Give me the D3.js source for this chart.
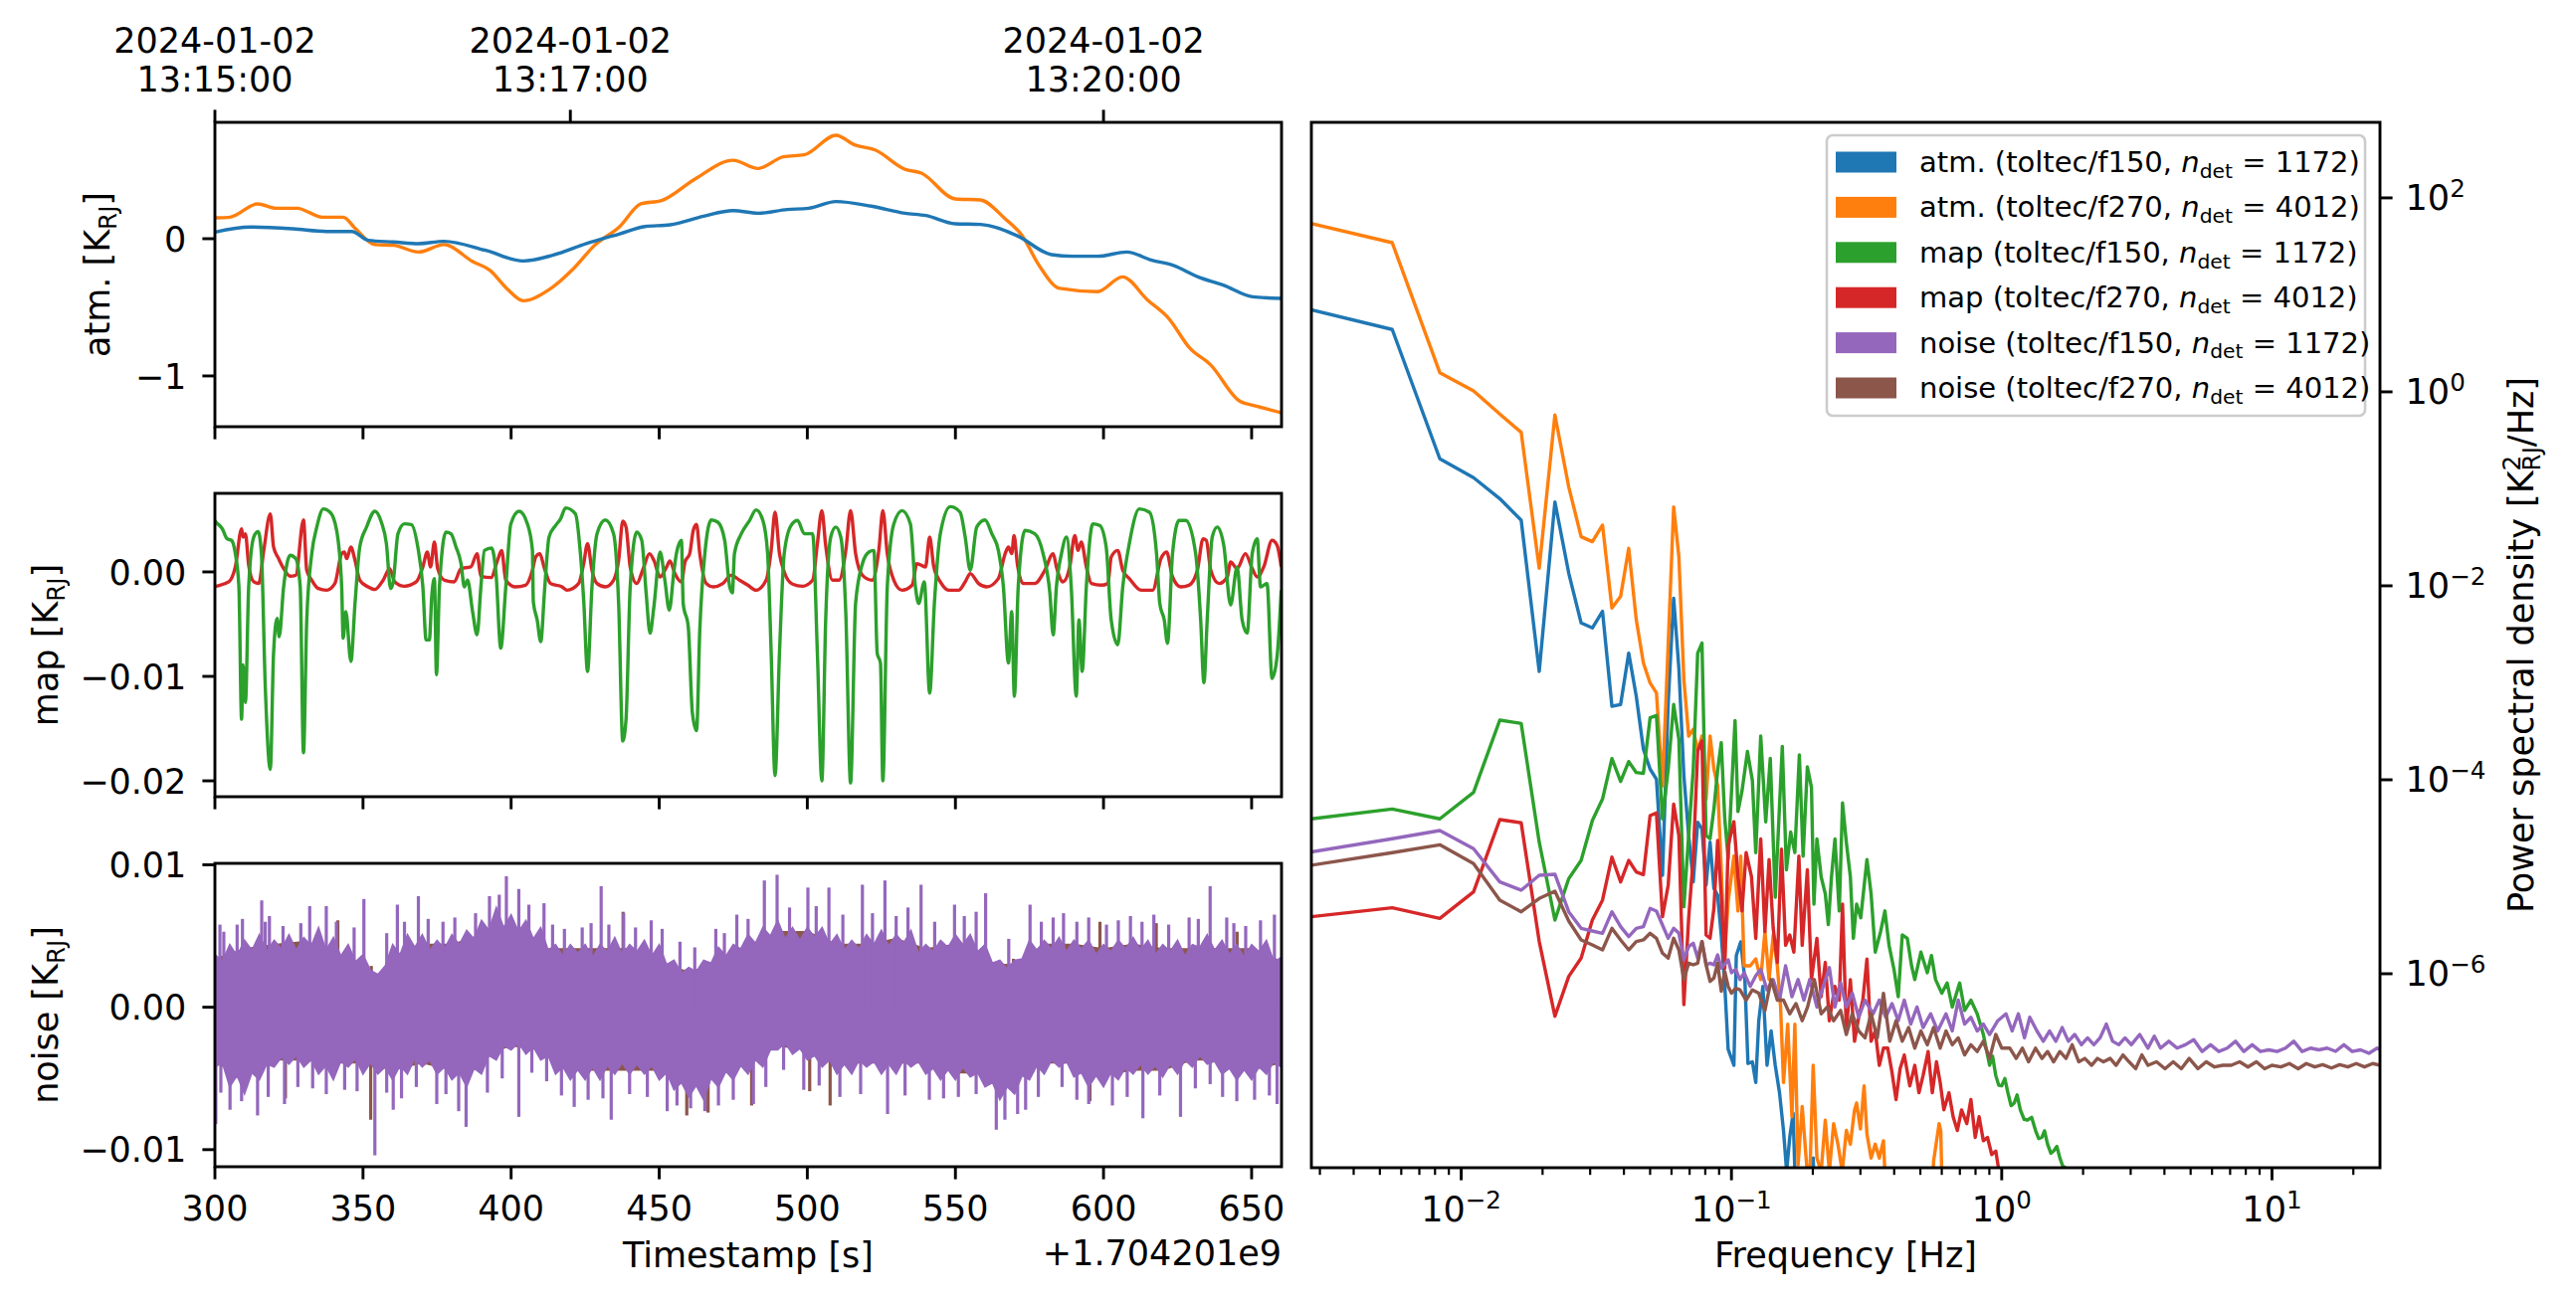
<!DOCTYPE html>
<html><head><meta charset="utf-8">
<script src="https://cdn.jsdelivr.net/npm/d3@7"></script>
<style>
body{margin:0;background:#fff;}
svg text{font-family:"DejaVu Sans",sans-serif;fill:#000;}
</style>
</head><body>
<svg id="chart" width="2589" height="1309" xmlns="http://www.w3.org/2000/svg"></svg>
<script>
// ---------------- DATA ----------------
const seriesNames = ["atm. (toltec/f150, ", "atm. (toltec/f270, ", "map (toltec/f150, ", "map (toltec/f270, ", "noise (toltec/f150, ", "noise (toltec/f270, "];
const seriesNdet = ["1172", "4012", "1172", "4012", "1172", "4012"];
const seriesColors = ["#1f77b4", "#ff7f0e", "#2ca02c", "#d62728", "#9467bd", "#8c564b"];

const timeTicks = [300, 350, 400, 450, 500, 550, 600, 650];
const dateTickSeconds = [300, 420, 600];
const dateTickLabels = [["2024-01-02", "13:15:00"], ["2024-01-02", "13:17:00"], ["2024-01-02", "13:20:00"]];
const atmTicks = [0, -1];
const mapTicks_mK = [0, -10, -20];
const noiseTicks_mK = [10, 0, -10];
const psdFreqTicks = [0.01, 0.1, 1, 10];
const psdFreqTickExp = ["\u22122", "\u22121", "0", "1"];
const psdTicks = [1e2, 1e0, 1e-2, 1e-4, 1e-6];
const psdTickExp = ["2", "0", "\u22122", "\u22124", "\u22126"];

// atm. time series [t (s, +1.704201e9), K_RJ]
const atmF150 = [[300,0.048],[312,0.085],[326.4,0.072],[337.7,0.053],[346.2,0.053],[351.8,-0.012],[360.3,-0.024],[368.8,-0.036],[377.3,-0.019],[391.4,-0.085],[404.1,-0.162],[414,-0.121],[425.4,-0.036],[436.7,0.036],[445.2,0.089],[453.7,0.101],[465,0.164],[474.9,0.205],[483.4,0.186],[493.3,0.213],[500.4,0.222],[509.7,0.271],[521.6,0.237],[532.9,0.186],[540,0.169],[549.9,0.109],[558.4,0.104],[571.1,0.019],[582.4,-0.116],[589.5,-0.128],[598,-0.128],[607.8,-0.097],[616.3,-0.157],[623.4,-0.193],[631.9,-0.278],[640.4,-0.338],[650.3,-0.423],[660,-0.435]];
const atmF270 = [[300,0.152],[305.1,0.157],[314.4,0.254],[320.6,0.222],[327.7,0.222],[336.2,0.157],[343.3,0.157],[347.5,0.072],[354,-0.043],[360.3,-0.048],[368.8,-0.097],[377.3,-0.043],[387.2,-0.169],[392.8,-0.229],[398.5,-0.362],[404.1,-0.452],[412.6,-0.374],[421.1,-0.217],[428.2,-0.048],[436.7,0.089],[443.8,0.254],[450.8,0.278],[462.1,0.435],[474.9,0.572],[483.4,0.512],[491.9,0.597],[498.9,0.611],[509.7,0.754],[515.9,0.684],[522.9,0.647],[532.9,0.507],[538.5,0.478],[549.9,0.290],[558.4,0.283],[566.8,0.145],[572.5,0.024],[578.2,-0.193],[585.2,-0.362],[598,-0.386],[606.4,-0.278],[614.9,-0.447],[622,-0.580],[629.1,-0.797],[636.1,-0.918],[646,-1.184],[651.7,-1.220],[660,-1.268]];

// map time series [t, mK_RJ]
const mapF150 = [[300,4.9],[300.4,4.76],[302.5,4.13],[304.1,3.17],[305.6,3.02],[306.9,1.75],[308.1,-1.43],[309,-14.1],[309.5,-8.9],[310.3,-12.5],[311.4,-1.43],[313.1,3.33],[314.6,3.87],[315.7,1.75],[317,-10.95],[318.7,-18.9],[319.8,-7.8],[321,-4.44],[321.7,-6.2],[323.2,-1.43],[325.4,1.59],[327.3,1.27],[328.8,-1.43],[329.9,-17.3],[331,-4.6],[332.7,1.75],[334.4,4.29],[336.6,6.03],[338.9,5.71],[341.1,3.97],[342.8,-1.43],[343.3,-6.35],[344.2,-3.81],[345.9,-8.57],[347.3,-3.02],[348.9,2.38],[351.2,4.29],[354,5.81],[356.2,4.76],[357.9,2.70],[359.3,-1.59],[360.1,-1.11],[361.8,3.65],[364,4.60],[366.3,4.54],[368.5,2.38],[370.2,-1.43],[371.3,-6.51],[372.4,-6.51],[373.2,-2.38],[374.1,-0.63],[374.8,-9.84],[375.8,-1.43],[378,3.81],[379.7,3.65],[381.4,2.38],[383.1,0.79],[384.2,-1.43],[385.3,-0.79],[387,-3.81],[388.5,-6.03],[389.8,-1.43],[391,2.06],[393.4,2.29],[394.9,-0.16],[396.5,-7.30],[398.2,-1.43],[399.9,4.60],[402.7,5.81],[405.5,4.60],[407.2,2.06],[407.5,-2.86],[408.8,-4.60],[410,-6.67],[411.3,-1.75],[412.8,3.33],[415,4.44],[416.7,5.08],[418.4,6.13],[421.7,5.56],[423.4,1.75],[424.5,-2.70],[425.8,-9.52],[427.3,-1.43],[429,3.65],[431.8,4.98],[434.6,3.65],[436.3,-3.02],[437.7,-16.2],[438.8,-14.1],[440.2,-1.43],[442.4,3.81],[444.1,3.02],[445.6,-2.06],[446.9,-5.87],[448.2,-3.33],[450.3,1.90],[451.9,-0.79],[453.4,-3.65],[455,0.16],[455.8,1.75],[457.5,3.02],[458.1,-3.02],[459.8,-5.24],[461.2,-13.5],[462.6,-15.2],[463.7,-5.56],[465.4,1.75],[467.6,4.98],[469.8,4.76],[472.1,3.02],[473.8,-1.43],[474.7,-2.0],[475.4,1.75],[477.7,3.65],[480.5,4.92],[482.7,5.94],[485,4.92],[486.6,1.75],[487.8,-7.78],[489.1,-19.5],[490.6,-7.78],[492.2,1.75],[494.5,4.44],[496.7,4.92],[499,3.65],[501.8,3.65],[503.4,-7.78],[504.9,-20.0],[506.2,-4.60],[507.9,3.33],[509.6,4.29],[511.3,3.33],[513,-3.97],[514.6,-20.2],[516.3,-3.02],[518.6,0.79],[520.8,1.90],[522.5,2.06],[523.6,-7.78],[524.7,-8.73],[525.5,-20.0],[527,-1.43],[529.2,4.60],[532,5.87],[534.8,4.60],[536.5,-1.43],[537.6,-3.02],[539.5,-0.95],[541.3,-11.6],[542.9,-3.02],[544.9,3.65],[548.3,6.25],[551.6,5.71],[553.3,3.33],[555,0.16],[557.2,4.29],[560,4.98],[562.3,3.65],[564.5,2.06],[566.2,-1.43],[567.9,-8.73],[569,-3.81],[569.9,-11.9],[571.2,-1.43],[573.5,3.97],[576.8,3.65],[579.6,1.75],[581.9,-2.06],[583,-6.03],[584.1,-1.43],[585.8,1.75],[587.5,3.33],[589.1,-1.43],[590.8,-11.9],[591.7,-4.60],[592.8,-9.52],[594.2,-1.43],[596.4,4.60],[598.7,4.44],[600.9,2.38],[602.6,-4.60],[604.8,-6.98],[606.5,-1.43],[608.7,2.70],[612.1,6.03],[615.5,5.71],[617.9,1.75],[619,-3.02],[620.5,-4.60],[621.6,-6.83],[623.3,1.75],[625.5,4.92],[627.8,4.92],[631.1,1.75],[632.8,-4.60],[633.9,-10.6],[635,-4.60],[636.7,3.33],[638.4,4.29],[640.6,2.54],[642.9,-3.17],[645.1,0.48],[646.8,-4.60],[648.5,-5.87],[650.2,1.75],[651.9,3.17],[653,-1.43],[655.2,-1.11],[656.9,-10.2],[658.6,-8.10],[660,-1.75]];
const mapF270 = [[300,-1.4],[300.4,-1.37],[304.7,-0.95],[306.9,0.48],[309,4.13],[309.5,3.33],[310.3,3.65],[311.4,0.63],[313.1,-0.95],[314.8,-1.11],[316.5,2.06],[318.7,5.56],[319.8,2.38],[321.5,1.27],[323.2,0.32],[325.4,-0.41],[327.3,-0.32],[329.9,4.98],[331,0.16],[332.7,-0.79],[334.9,-1.59],[337.7,-1.75],[340.5,-1.11],[342.8,1.75],[343.7,1.90],[344.5,1.27],[345.9,2.38],[347.3,1.11],[348.9,-0.79],[351.7,-1.43],[354,-1.68],[356.8,-0.79],[359,0.32],[360.7,-0.95],[364,-1.37],[368,-0.95],[370.2,0.48],[371.7,1.90],[372.8,0.48],[374.1,2.86],[375.2,0.32],[377.5,-0.79],[380.8,-0.95],[383.1,0.32],[386.4,0.48],[388.5,1.75],[389.8,-0.41],[393.2,-0.54],[395.4,1.11],[396.8,2.06],[398.2,-0.79],[401.5,-1.43],[404.9,-1.27],[407.2,0.16],[408.3,1.43],[409.7,1.75],[411.1,0.48],[413.3,-1.11],[417.2,-1.43],[418.9,-1.75],[422.8,-1.11],[424.5,0.79],[425.8,2.70],[427.3,0.16],[429,-1.11],[431.8,-1.43],[434.6,-0.79],[436.3,1.11],[437.7,4.86],[438.8,4.29],[440.2,0.48],[442.4,-1.11],[444.6,0.32],[446.7,1.75],[448.2,1.11],[450.3,-0.48],[452.5,0.48],[453.6,1.05],[455.3,-0.16],[457.5,-0.95],[458.7,0.95],[460.3,1.75],[461.5,3.97],[462.6,4.54],[463.7,1.75],[465.9,-1.11],[468.2,-1.43],[471.5,-1.11],[474.3,-0.32],[477.1,-0.79],[479.9,-1.27],[482.7,-1.75],[486.1,-0.79],[487.8,2.06],[489.1,5.71],[490.6,1.75],[492.2,0],[495,-1.17],[498.4,-1.37],[501.8,-0.79],[503.4,2.70],[504.9,5.87],[506.2,2.54],[508.5,-0.79],[510.7,-0.79],[513,2.06],[514.6,5.87],[516.3,1.75],[518.6,-0.32],[521.9,-0.79],[524.2,2.22],[525.5,5.87],[527,1.75],[529.2,-0.79],[532,-1.75],[535.4,-1.27],[537,0.79],[539.9,0.48],[541.3,3.33],[542.7,0.48],[544.9,-0.95],[547.7,-1.75],[551.1,-1.75],[553.3,-0.95],[555,-0.16],[557.8,-1.11],[560.6,-1.43],[564.5,-0.63],[566.8,1.75],[567.9,2.38],[569,1.75],[569.8,3.49],[570.9,0.79],[572.9,-1.11],[576.8,-1.11],[580.2,0.16],[583,1.75],[584.1,0.48],[586.3,-0.95],[588.6,0.48],[590.3,3.49],[591.4,2.06],[592.5,2.86],[594.2,0.48],[595.9,-1.11],[599.2,-1.27],[601.5,-1.11],[602.6,1.43],[604.8,2.06],[606.5,0.16],[608.7,-0.63],[612.7,-1.75],[616.6,-1.75],[619.4,1.27],[621.3,1.90],[623.3,-0.48],[626.1,-1.43],[628.9,-1.27],[631.7,0.16],[633.6,3.17],[634.7,3.02],[636.2,0.16],[639,-1.11],[641.8,-0.48],[642.9,0.95],[645.1,0.32],[647.9,1.75],[650.2,0.32],[651.9,-0.48],[654.1,0.48],[656.9,3.02],[658.6,2.54],[660,0.48]];

// noise time series: dense band [t, upper mK_RJ, lower mK_RJ] and individual spikes [t, mK_RJ]
const noiseF150Band = [[300,3.7,-4.2],[302.5,3.2,-3.9],[305,4.4,-5.6],[307.5,3.6,-4.8],[310,4.7,-6.1],[312.5,4.0,-4.6],[315,5.1,-5.1],[317.5,3.9,-4.0],[320,4.7,-4.2],[322.5,4.1,-3.5],[325,5.1,-4.0],[327.5,4.0,-3.4],[330,4.9,-4.2],[332.5,4.3,-3.7],[335,5.6,-4.7],[337.5,4.0,-4.1],[340,4.9,-5.1],[342.5,3.6,-3.8],[345,4.4,-4.2],[347.5,3.2,-3.6],[350,3.7,-4.7],[352.5,2.6,-3.9],[355,2.3,-4.7],[357.5,2.9,-4.2],[360,4.4,-5.1],[362.5,3.7,-4.1],[365,5.1,-4.7],[367.5,4.2,-3.6],[370,5.1,-4.2],[372.5,4.0,-3.7],[375,4.7,-4.7],[377.5,4.1,-4.2],[380,5.1,-5.1],[382.5,4.4,-4.6],[385,5.4,-5.6],[387.5,4.8,-4.3],[390,6.1,-4.7],[392.5,5.4,-3.4],[395,7.0,-3.7],[397.5,5.6,-2.7],[400,6.5,-3.0],[402.5,5.3,-2.5],[405,6.1,-3.3],[407.5,4.8,-2.8],[410,5.6,-3.7],[412.5,4.0,-3.4],[415,4.4,-4.7],[417.5,3.6,-4.2],[420,4.4,-5.1],[422.5,3.8,-4.4],[425,4.4,-5.1],[427.5,3.5,-4.2],[430,4.4,-5.1],[432.5,3.9,-4.1],[435,4.9,-4.7],[437.5,3.7,-3.9],[440,4.4,-4.7],[442.5,3.9,-4.0],[445,4.7,-4.7],[447.5,3.6,-4.1],[450,4.4,-5.1],[452.5,3.0,-4.6],[455,3.3,-5.8],[457.5,2.4,-5.3],[460,2.8,-6.3],[462.5,2.5,-5.5],[465,3.3,-6.5],[467.5,3.1,-5.0],[470,4.2,-5.6],[472.5,3.6,-4.5],[475,4.4,-5.1],[477.5,4.1,-4.1],[480,5.1,-4.7],[482.5,4.5,-3.7],[485,5.6,-4.2],[487.5,5.0,-3.0],[490,6.1,-3.0],[492.5,4.8,-2.5],[495,5.6,-3.3],[497.5,4.7,-2.9],[500,5.6,-3.7],[502.5,4.9,-3.4],[505,5.6,-4.2],[507.5,4.4,-3.7],[510,5.1,-4.7],[512.5,4.0,-4.0],[515,4.7,-4.7],[517.5,4.1,-3.7],[520,5.1,-4.2],[522.5,4.4,-3.8],[525,5.4,-4.7],[527.5,4.3,-4.0],[530,5.1,-4.7],[532.5,4.5,-3.7],[535,5.4,-4.2],[537.5,3.8,-3.8],[540,4.4,-4.7],[542.5,3.9,-4.3],[545,4.7,-5.1],[547.5,4.2,-4.4],[550,5.1,-5.1],[552.5,4.4,-4.2],[555,5.1,-4.9],[557.5,3.9,-4.6],[560,4.4,-5.6],[562.5,3.1,-5.3],[565,3.3,-6.5],[567.5,2.7,-5.6],[570,3.3,-6.1],[572.5,3.4,-4.8],[575,4.7,-5.1],[577.5,4.0,-4.1],[580,4.7,-4.7],[582.5,4.1,-3.7],[585,4.9,-4.2],[587.5,3.9,-3.8],[590,4.7,-4.9],[592.5,4.1,-4.6],[595,4.7,-5.6],[597.5,3.7,-4.8],[600,4.4,-5.6],[602.5,3.9,-4.6],[605,4.7,-5.1],[607.5,4.1,-4.2],[610,4.9,-4.7],[612.5,4.0,-4.0],[615,4.7,-4.7],[617.5,3.7,-4.1],[620,4.4,-4.9],[622.5,3.9,-4.0],[625,4.7,-4.7],[627.5,3.6,-3.7],[630,4.4,-4.2],[632.5,4.2,-3.4],[635,5.1,-4.0],[637.5,4.0,-3.8],[640,4.7,-4.7],[642.5,3.7,-4.3],[645,4.4,-5.1],[647.5,3.5,-4.4],[650,4.4,-5.1],[652.5,3.9,-4.2],[655,4.7,-4.7],[657.5,3.2,-3.8],[660,3.5,-4.2]];
const noiseF150Spikes = [[301.7,5.8],[303,5.3],[307.5,5.8],[309.3,6.2],[315.8,7.5],[317,6.0],[318.4,6.4],[323,5.7],[329,5.9],[332,7.1],[337.6,7.1],[341,6.0],[347,5.6],[350.3,7.6],[358,5.2],[361.6,7.2],[364,6.0],[368.7,7.8],[372,6.2],[377,6.0],[381,6.3],[388,6.6],[392.7,7.8],[396,7.9],[398.4,9.2],[402.6,8.3],[406,7.2],[411.1,7.3],[414,5.8],[418,5.5],[424,5.6],[427,5.9],[430.4,8.5],[433,5.8],[438,6.6],[442,5.6],[447.3,6.1],[451,5.5],[457,4.6],[462,4.2],[469.1,5.5],[472,5.2],[476.2,6.5],[480,6.2],[485.5,8.9],[489.8,9.3],[494,7.0],[500.2,8.4],[503,7.1],[507.3,8.4],[512,6.5],[518.6,8.6],[522,6.6],[526.2,8.9],[530,6.4],[534,7.0],[538.4,8.6],[543,6.0],[549.7,7.2],[553,6.4],[557,6.7],[560.2,8.0],[568,4.8],[575.2,7.2],[579,6.0],[583,6.3],[586.5,6.6],[591,6.0],[595,6.3],[601,5.8],[605,6.1],[609.1,6.4],[613,6.0],[617,6.5],[622,5.8],[628.9,6.3],[632,6.2],[636,8.5],[641.6,6.3],[644,5.9],[648,5.7],[653,6.1],[657.7,6.5],
[300.3,-8.2],[302,-6.0],[305.1,-7.2],[309,-6.6],[314.4,-7.6],[318,-6.3],[323.5,-6.8],[328,-5.6],[333,-5.7],[337.6,-6.1],[343.8,-5.8],[348,-5.9],[354,-10.4],[358,-6.0],[360.2,-7.2],[363,-6.4],[368,-5.6],[374.9,-6.8],[378,-6.1],[382.3,-7.3],[384.8,-8.4],[392,-6.0],[397,-5.0],[402.6,-7.7],[407,-4.6],[412,-5.2],[417,-6.2],[421.3,-7.0],[426,-6.5],[431,-6.4],[433.8,-7.9],[440,-6.1],[446,-6.3],[452.7,-7.3],[456,-6.9],[460.6,-7.1],[465.4,-7.3],[470,-6.9],[475,-6.5],[481.8,-6.8],[486,-5.6],[492,-4.4],[498.8,-5.8],[504,-5.5],[511,-6.3],[518,-6.1],[527.1,-7.5],[533,-6.2],[541.2,-6.5],[546,-6.4],[551,-6.3],[557,-6.1],[563.8,-8.6],[566.7,-7.9],[571,-7.5],[573.7,-7.2],[578,-6.3],[586,-5.6],[591,-6.5],[595,-6.8],[603,-6.9],[608,-6.3],[613.3,-7.8],[619,-6.2],[626,-7.7],[631,-5.7],[636,-5.4],[640.2,-6.3],[645,-6.6],[651,-6.5],[656,-6.2],[658.6,-6.8]];
const noiseF270Band = [[300,3.4,-3.9],[310,4.1,-4.8],[320,4.4,-3.7],[330,4.6,-3.7],[340,4.1,-3.9],[350,2.0,-3.9],[360,2.0,-4.4],[370,4.4,-3.9],[380,4.4,-4.4],[390,5.1,-3.4],[400,5.8,-2.7],[410,4.1,-3.0],[420,4.1,-4.4],[430,4.1,-4.4],[440,4.1,-4.4],[450,3.0,-4.4],[460,2.5,-5.5],[470,3.0,-4.8],[480,4.1,-3.9],[490,5.3,-2.7],[500,5.3,-3.0],[510,4.4,-3.9],[520,4.4,-3.9],[530,4.8,-3.9],[540,4.1,-3.9],[550,4.4,-4.6],[560,3.0,-4.6],[570,3.0,-4.8],[580,4.4,-3.9],[590,4.4,-3.9],[600,4.1,-4.8],[610,4.4,-4.4],[620,4.1,-4.4],[630,4.1,-3.7],[640,4.1,-3.7],[650,4.1,-4.4],[660,3.2,-3.9]];
const noiseF270Spikes = [[352.8,2.9],[352.6,-7.9],[437.8,6.7],[459.3,-7.6],[466.5,-7.4],[481.2,-6.9],[507.7,-6.9],[569.6,3.4],[595.4,-6.6],[598.8,6.0],[617.8,5.9],[645.1,5.3],[323.8,-6.4],[341.5,6.1],[500.8,-5.9]];

// power spectral density, log10(K_RJ^2/Hz); low-frequency bins in Hz
const psdFreqLow = [0.002778,0.005556,0.008333,0.01111,0.01389,0.01667,0.01944,0.02222,0.025,0.02778,0.03056,0.03333,0.03611,0.03889,0.04167,0.04444,0.04722,0.05,0.05278,0.05556,0.05833,0.06111,0.06389,0.06667,0.06944,0.07222,0.075,0.07778,0.08056,0.08333,0.08611,0.08889,0.09167,0.09444,0.09722];
const psdAtmF150Low = [0.848,0.643,-0.690,-0.885,-1.101,-1.323,-2.882,-1.135,-1.870,-2.383,-2.434,-2.263,-3.241,-3.224,-2.694,-3.138,-3.685,-3.890,-3.993,-4.985,-3.207,-2.127,-2.85,-3.959,-4.574,-5.053,-4.438,-4.506,-5.087,-4.643,-5.121,-5.190,-5.600,-6.113,-6.779];
const psdAtmF270Low = [1.737,1.538,0.198,0.010,-0.229,-0.417,-1.819,-0.239,-0.981,-1.494,-1.545,-1.374,-2.229,-2.109,-1.614,-2.35,-2.796,-3.002,-3.104,-4.062,-2.6,-1.186,-1.7,-2.967,-3.549,-3.480,-3.7,-3.549,-4.2,-3.549,-3.890,-4.062,-4.916,-5.805,-5.258];
const psdMapF150Low = [-4.403,-4.301,-4.403,-4.130,-3.385,-3.419,-4.643,-5.446,-5.019,-4.831,-4.420,-4.198,-3.781,-4.017,-3.812,-3.925,-3.935,-3.361,-3.337,-4.403,-3.890,-3.224,-3.583,-5.309,-4.574,-3.890,-2.694,-2.591,-4.574,-4.608,-4.301,-3.9,-3.617,-4.4,-4.814];
const psdMapF270Low = [-5.412,-5.320,-5.429,-5.156,-4.410,-4.444,-5.668,-6.438,-6.027,-5.839,-5.446,-5.241,-4.797,-5.053,-4.831,-4.950,-4.978,-4.369,-4.342,-5.412,-5.087,-4.250,-4.574,-6.318,-5.429,-4.8,-3.7,-3.600,-5.600,-5.634,-5.326,-4.626,-5.2,-5.942,-4.677];
const psdNoiseF150Low = [-4.745,-4.608,-4.523,-4.711,-5.053,-5.138,-4.985,-4.974,-5.361,-5.532,-5.559,-5.583,-5.361,-5.515,-5.617,-5.532,-5.515,-5.326,-5.354,-5.498,-5.634,-5.532,-5.583,-5.856,-5.720,-5.685,-5.839,-5.668,-5.908,-5.891,-5.908,-5.805,-5.942,-5.9,-5.856];
const psdNoiseF270Low = [-4.882,-4.752,-4.670,-4.865,-5.241,-5.361,-5.224,-5.149,-5.456,-5.651,-5.703,-5.754,-5.532,-5.651,-5.754,-5.668,-5.651,-5.583,-5.634,-5.788,-5.839,-5.634,-5.754,-6.062,-5.891,-5.908,-5.891,-5.668,-5.908,-6.079,-6.044,-5.891,-6.181,-5.976,-6.130];
// higher frequencies [Hz, log10 PSD]
const psdAtmF150High = [[0.1021,-6.944],[0.1042,-5.812],[0.1082,-5.671],[0.1121,-6.060],[0.1151,-6.926],[0.1195,-6.908],[0.1230,-7.121],[0.1262,-6.484],[0.1307,-6.130],[0.1354,-6.944],[0.1402,-6.590],[0.1452,-6.944],[0.1506,-7.227],[0.1558,-7.616],[0.1600,-8.04],[0.1643,-7.687],[0.1691,-7.439],[0.1740,-8.6],[0.1960,-8.6],[0.2006,-7.899],[0.2050,-8.6]];
const psdAtmF270High = [[0.1021,-4.787],[0.1057,-5.352],[0.1082,-4.787],[0.1114,-5.918],[0.1173,-5.918],[0.1230,-5.848],[0.1283,-6.060],[0.1330,-5.565],[0.1378,-6.060],[0.1427,-5.600],[0.1478,-5.918],[0.1520,-6.343],[0.1558,-7.121],[0.1615,-6.519],[0.1674,-7.474],[0.1716,-6.519],[0.1764,-7.970],[0.1827,-7.368],[0.1880,-7.828],[0.1940,-8.3],[0.2006,-6.944],[0.2071,-7.899],[0.2147,-8.04],[0.2224,-7.510],[0.2302,-8.04],[0.2388,-7.545],[0.2477,-7.757],[0.2570,-8.04],[0.2661,-7.616],[0.2754,-7.757],[0.2853,-7.404],[0.2904,-7.333],[0.3000,-7.6],[0.3095,-7.156],[0.3172,-7.651],[0.3286,-7.9],[0.3404,-7.757],[0.3524,-7.9],[0.3651,-7.722],[0.3760,-8.5],[0.5500,-8.5],[0.5596,-7.934],[0.5866,-7.545],[0.5950,-7.62],[0.6050,-8.5]];
const psdMapF150High = [[0.1031,-3.389],[0.1057,-4.327],[0.1094,-4.115],[0.1146,-3.708],[0.1195,-4.008],[0.1230,-4.751],[0.1283,-3.549],[0.1339,-4.433],[0.1392,-3.779],[0.1452,-5.211],[0.1542,-3.655],[0.1597,-4.928],[0.1656,-4.539],[0.1716,-4.751],[0.1783,-3.743],[0.1841,-4.787],[0.1909,-3.867],[0.1977,-4.079],[0.2019,-5.282],[0.2071,-4.610],[0.2147,-5.0],[0.2224,-5.176],[0.2282,-5.494],[0.2345,-5.0],[0.2415,-4.610],[0.2505,-5.352],[0.2576,-4.238],[0.2661,-4.645],[0.2754,-5.0],[0.2825,-5.635],[0.2904,-5.282],[0.3009,-5.423],[0.3172,-4.822],[0.3286,-5.176],[0.3404,-5.777],[0.3563,-5.565],[0.3696,-5.352],[0.3829,-5.706],[0.3993,-5.954],[0.4140,-6.237],[0.4285,-5.600],[0.4475,-5.635],[0.4639,-5.918],[0.4768,-6.060],[0.5023,-5.777],[0.5305,-5.989],[0.5495,-5.812],[0.5692,-6.060],[0.6003,-6.201],[0.6281,-6.095],[0.6561,-6.343],[0.6988,-6.095],[0.7291,-6.378],[0.7690,-6.272],[0.8115,-6.413],[0.8551,-6.626],[0.9016,-6.944],[0.925,-6.85],[0.9508,-7.050],[0.975,-7.15],[1.0,-7.156],[1.027,-7.08],[1.054,-7.227],[1.083,-7.36],[1.112,-7.333],[1.14,-7.25],[1.172,-7.404],[1.21,-7.50],[1.245,-7.510],[1.29,-7.48],[1.334,-7.616],[1.37,-7.70],[1.409,-7.687],[1.44,-7.62],[1.478,-7.757],[1.52,-7.85],[1.556,-7.828],[1.60,-7.78],[1.641,-7.899],[1.68,-7.98],[1.730,-8.005],[1.80,-8.2]];
const psdMapF270High = [[0.1021,-4.433],[0.1057,-5.0],[0.1094,-5.352],[0.1133,-4.751],[0.1186,-5.0],[0.1230,-5.635],[0.1283,-4.610],[0.1330,-5.565],[0.1378,-4.822],[0.1427,-5.529],[0.1478,-5.883],[0.1531,-4.716],[0.1586,-5.706],[0.1643,-5.600],[0.1702,-5.777],[0.1776,-4.787],[0.1827,-5.706],[0.1909,-4.928],[0.1977,-6.060],[0.2071,-5.635],[0.2147,-6.237],[0.2224,-5.883],[0.2302,-6.484],[0.2415,-6.130],[0.2505,-6.272],[0.2576,-5.282],[0.2661,-6.590],[0.2754,-6.060],[0.2853,-6.696],[0.2957,-6.449],[0.3063,-6.272],[0.3172,-5.848],[0.3286,-6.696],[0.3404,-6.590],[0.3524,-6.944],[0.3651,-6.767],[0.3786,-6.767],[0.3926,-7.015],[0.4064,-7.297],[0.4207,-6.979],[0.4360,-6.838],[0.4571,-7.156],[0.4768,-6.944],[0.4941,-7.227],[0.5117,-7.050],[0.5341,-6.803],[0.5536,-7.227],[0.5736,-6.908],[0.5919,-7.121],[0.6109,-7.404],[0.6377,-7.227],[0.6611,-7.474],[0.6851,-7.616],[0.7104,-7.404],[0.7426,-7.545],[0.7690,-7.297],[0.7979,-7.687],[0.8249,-7.474],[0.8551,-7.722],[0.8859,-7.687],[0.9183,-7.864],[0.9508,-7.828],[0.985,-8.1],[1.0,-8.3]];
const psdNoiseF150High = [[0.1,-5.989],[0.1036,-5.954],[0.1075,-6.060],[0.1114,-5.989],[0.1173,-6.130],[0.1230,-6.020],[0.1283,-5.954],[0.1354,-6.166],[0.1427,-6.060],[0.1506,-6.272],[0.1586,-5.918],[0.1674,-6.237],[0.1764,-6.060],[0.1854,-6.272],[0.1949,-6.060],[0.2071,-6.343],[0.2185,-6.130],[0.2302,-5.936],[0.2415,-6.343],[0.2534,-6.095],[0.2661,-6.343],[0.2800,-6.201],[0.2957,-6.449],[0.3120,-6.272],[0.3343,-6.413],[0.3524,-6.272],[0.3720,-6.449],[0.3926,-6.307],[0.4140,-6.484],[0.4360,-6.272],[0.4605,-6.519],[0.4859,-6.343],[0.5117,-6.555],[0.5457,-6.413],[0.5796,-6.590],[0.6222,-6.413],[0.6561,-6.590],[0.6903,-6.272],[0.7291,-6.519],[0.7690,-6.449],[0.8115,-6.590],[0.8551,-6.519],[0.9016,-6.626],[0.9672,-6.484],[1.037,-6.413],[1.093,-6.590],[1.152,-6.413],[1.214,-6.661],[1.270,-6.449],[1.350,-6.590],[1.425,-6.696],[1.503,-6.590],[1.586,-6.696],[1.674,-6.555],[1.765,-6.696],[1.862,-6.626],[1.972,-6.732],[2.078,-6.661],[2.193,-6.732],[2.311,-6.661],[2.438,-6.519],[2.573,-6.696],[2.711,-6.732],[2.860,-6.661],[3.017,-6.732],[3.241,-6.626],[3.478,-6.767],[3.669,-6.643],[3.871,-6.767],[4.153,-6.696],[4.456,-6.767],[4.781,-6.732],[5.136,-6.679],[5.517,-6.802],[5.925,-6.732],[6.358,-6.802],[6.829,-6.767],[7.331,-6.696],[7.868,-6.802],[8.449,-6.732],[9.067,-6.802],[9.729,-6.785],[10.45,-6.802],[11.22,-6.767],[12.04,-6.696],[12.93,-6.802],[13.89,-6.767],[14.91,-6.785],[16.01,-6.767],[17.2,-6.80],[18.45,-6.732],[19.81,-6.802],[21.27,-6.785],[22.84,-6.820],[24.5,-6.767],[25.2,-6.785]];
const psdNoiseF270High = [[0.1,-6.201],[0.1036,-6.150],[0.1075,-6.166],[0.1133,-6.272],[0.1195,-6.166],[0.1262,-6.201],[0.1330,-6.378],[0.1402,-6.060],[0.1478,-6.272],[0.1558,-6.272],[0.1643,-6.413],[0.1733,-6.307],[0.1827,-6.484],[0.1913,-6.343],[0.2026,-6.060],[0.2147,-6.413],[0.2263,-6.343],[0.2388,-6.484],[0.2534,-6.378],[0.2661,-6.626],[0.2800,-6.413],[0.2957,-6.590],[0.3120,-6.661],[0.3286,-6.413],[0.3463,-6.661],[0.3651,-6.201],[0.3853,-6.696],[0.4064,-6.484],[0.4285,-6.696],[0.4522,-6.555],[0.4768,-6.767],[0.5023,-6.590],[0.5305,-6.732],[0.5596,-6.555],[0.5919,-6.767],[0.6222,-6.590],[0.6561,-6.732],[0.6903,-6.661],[0.7291,-6.837],[0.7690,-6.732],[0.8115,-6.802],[0.8551,-6.696],[0.9016,-6.873],[0.9508,-6.626],[1.0,-6.767],[1.072,-6.767],[1.131,-6.873],[1.192,-6.767],[1.257,-6.908],[1.334,-6.767],[1.409,-6.873],[1.478,-6.802],[1.556,-6.908],[1.641,-6.802],[1.730,-6.873],[1.822,-6.732],[1.929,-6.908],[2.03,-6.873],[2.15,-6.944],[2.26,-6.873],[2.38,-6.908],[2.52,-6.873],[2.65,-6.944],[2.81,-6.837],[2.96,-6.908],[3.13,-6.979],[3.30,-6.837],[3.48,-6.944],[3.74,-6.908],[4.02,-6.979],[4.31,-6.908],[4.62,-6.979],[4.94,-6.873],[5.32,-6.979],[5.71,-6.908],[6.13,-6.961],[6.58,-6.944],[7.07,-6.944],[7.59,-6.908],[8.15,-6.961],[8.76,-6.908],[9.39,-6.979],[10.0,-6.944],[10.8,-6.961],[11.6,-6.926],[12.5,-6.979],[13.4,-6.926],[14.4,-6.961],[15.4,-6.937],[16.6,-6.972],[17.8,-6.937],[19.1,-6.961],[20.5,-6.926],[22.0,-6.961],[23.6,-6.926],[25.2,-6.944]];

// ---------------- DRAWING ----------------
const svg = d3.select("#chart");
const FS = 35, TL = 12.6, AW = 2.9, LWD = 3.4;
const defs = svg.append("defs");
function clip(id, x0, y0, x1, y1) {
  defs.append("clipPath").attr("id", id).append("rect").attr("x", x0).attr("y", y0).attr("width", x1 - x0).attr("height", y1 - y0);
}
function rich(sel, parts, fs) {
  let shift = 0;
  parts.forEach(p => {
    const ts = sel.append("tspan").text(p.t);
    let target = 0, size = fs;
    if (p.sub) { target = 0.2 * fs; size = 0.7 * fs; }
    if (p.sup) { target = -0.38 * fs; size = 0.7 * fs; }
    ts.attr("font-size", size);
    if (target !== shift) { ts.attr("dy", target - shift); shift = target; }
    if (p.it) ts.attr("font-style", "italic");
    if (p.dx) ts.attr("dx", p.dx);
  });
}

const X0 = 216, X1 = 1288;
const xT = d3.scaleLinear().domain([300, 660.1]).range([X0, X1]);
const panels = [
  {id: "p1", y0: 123, y1: 429, y: d3.scaleLinear().domain([-1.370, 0.848]).range([429, 123]), ticks: atmTicks, fmt: v => v === 0 ? "0" : "\u2212" + Math.abs(v), label: "atm. [K", lx: 110},
  {id: "p2", y0: 496, y1: 801, y: d3.scaleLinear().domain([-21.52, 7.52]).range([801, 496]), ticks: mapTicks_mK, fmt: v => (v < 0 ? "\u2212" : "") + (Math.abs(v) / 1000).toFixed(2), label: "map [K", lx: 58},
  {id: "p3", y0: 868, y1: 1173, y: d3.scaleLinear().domain([-11.2, 10.1]).range([1173, 868]), ticks: noiseTicks_mK, fmt: v => (v < 0 ? "\u2212" : "") + (Math.abs(v) / 1000).toFixed(2), label: "noise [K", lx: 58}
];

panels.forEach((p, i) => {
  clip(p.id, X0, p.y0, X1, p.y1);
  const g = svg.append("g");
  g.selectAll(".xt").data(timeTicks).enter().append("line")
    .attr("x1", d => xT(d)).attr("x2", d => xT(d)).attr("y1", p.y1).attr("y2", p.y1 + TL)
    .attr("stroke", "#000").attr("stroke-width", AW);
  g.selectAll(".yt").data(p.ticks).enter().append("line")
    .attr("x1", X0 - TL).attr("x2", X0).attr("y1", d => p.y(d)).attr("y2", d => p.y(d))
    .attr("stroke", "#000").attr("stroke-width", AW);
  g.selectAll(".yl").data(p.ticks).enter().append("text")
    .attr("x", X0 - TL - 16).attr("y", d => p.y(d)).attr("dy", "0.36em")
    .attr("text-anchor", "end").attr("font-size", FS).text(d => p.fmt(d));
  const lt = g.append("text").attr("transform", `translate(${p.lx},${(p.y0 + p.y1) / 2}) rotate(-90)`)
    .attr("text-anchor", "middle").attr("font-size", FS);
  rich(lt, [{t: p.label}, {t: "RJ", sub: true}, {t: "]"}], FS);
});

// top date axis
const gTop = svg.append("g");
gTop.selectAll("line").data(dateTickSeconds).enter().append("line")
  .attr("x1", d => xT(d)).attr("x2", d => xT(d)).attr("y1", 123 - TL).attr("y2", 123)
  .attr("stroke", "#000").attr("stroke-width", AW);
dateTickSeconds.forEach((s, i) => {
  gTop.append("text").attr("x", xT(s)).attr("y", 53).attr("text-anchor", "middle").attr("font-size", FS).text(dateTickLabels[i][0]);
  gTop.append("text").attr("x", xT(s)).attr("y", 92).attr("text-anchor", "middle").attr("font-size", FS).text(dateTickLabels[i][1]);
});
svg.append("g").selectAll("text").data(timeTicks).enter().append("text")
  .attr("x", d => xT(d)).attr("y", 1227).attr("text-anchor", "middle").attr("font-size", FS).text(d => d);
svg.append("text").attr("x", (X0 + X1) / 2).attr("y", 1274).attr("text-anchor", "middle").attr("font-size", FS).text("Timestamp [s]");
svg.append("text").attr("x", X1).attr("y", 1272).attr("text-anchor", "end").attr("font-size", FS).text("+1.704201e9");

// atm lines
{
  const p = panels[0];
  const gl = svg.append("g").attr("clip-path", "url(#p1)");
  const line = d3.line().x(d => xT(d[0])).y(d => p.y(d[1])).curve(d3.curveMonotoneX);
  gl.append("path").datum(atmF270).attr("d", line).attr("fill", "none").attr("stroke", seriesColors[1]).attr("stroke-width", LWD);
  gl.append("path").datum(atmF150).attr("d", line).attr("fill", "none").attr("stroke", seriesColors[0]).attr("stroke-width", LWD);
}
// map lines
{
  const p = panels[1];
  const gl = svg.append("g").attr("clip-path", "url(#p2)");
  const line = d3.line().x(d => xT(d[0])).y(d => p.y(d[1])).curve(d3.curveMonotoneX);
  gl.append("path").datum(mapF270).attr("d", line).attr("fill", "none").attr("stroke", seriesColors[3]).attr("stroke-width", LWD);
  gl.append("path").datum(mapF150).attr("d", line).attr("fill", "none").attr("stroke", seriesColors[2]).attr("stroke-width", LWD);
}
// noise
{
  const p = panels[2];
  const gl = svg.append("g").attr("clip-path", "url(#p3)");
  const area = d3.area().x(d => xT(d[0])).y0(d => p.y(d[2])).y1(d => p.y(d[1]));
  const drawNoise = (band, spikes, color) => {
    gl.append("path").datum(band).attr("d", area).attr("fill", color).attr("stroke", color).attr("stroke-width", 1.5).attr("stroke-linejoin", "miter");
    gl.selectAll(null).data(spikes).enter().append("line")
      .attr("x1", d => xT(d[0])).attr("x2", d => xT(d[0]))
      .attr("y1", p.y(0)).attr("y2", d => p.y(d[1]))
      .attr("stroke", color).attr("stroke-width", 3.2);
  };
  drawNoise(noiseF270Band, noiseF270Spikes, seriesColors[5]);
  drawNoise(noiseF150Band, noiseF150Spikes, seriesColors[4]);
}
panels.forEach(p => {
  svg.append("rect").attr("x", X0).attr("y", p.y0).attr("width", X1 - X0).attr("height", p.y1 - p.y0)
    .attr("fill", "none").attr("stroke", "#000").attr("stroke-width", AW);
});

// ---------- PSD panel ----------
const PX0 = 1318, PX1 = 2392, PY0 = 123, PY1 = 1174;
const xF = d3.scaleLog().domain([0.00279, 25.1]).range([PX0, PX1]);
const yP = d3.scaleLog().domain([1e-8, 601]).range([PY1, PY0]);
clip("pp", PX0, PY0, PX1, PY1);
const gP = svg.append("g").attr("clip-path", "url(#pp)");
const psdLine = d3.line().x(d => xF(d[0])).y(d => yP(Math.pow(10, d[1])));
const psdSeries = [
  [psdAtmF150Low, psdAtmF150High], [psdAtmF270Low, psdAtmF270High],
  [psdMapF150Low, psdMapF150High], [psdMapF270Low, psdMapF270High],
  [psdNoiseF150Low, psdNoiseF150High], [psdNoiseF270Low, psdNoiseF270High]
];
psdSeries.forEach((s, i) => {
  const pts = s[0].map((v, k) => [psdFreqLow[k], v]).concat(s[1]);
  gP.append("path").datum(pts).attr("d", psdLine).attr("fill", "none")
    .attr("stroke", seriesColors[i]).attr("stroke-width", LWD).attr("stroke-linejoin", "round");
});
svg.append("rect").attr("x", PX0).attr("y", PY0).attr("width", PX1 - PX0).attr("height", PY1 - PY0)
  .attr("fill", "none").attr("stroke", "#000").attr("stroke-width", AW);
const minor = xF.ticks().filter(v => Math.abs(Math.log10(v) - Math.round(Math.log10(v))) > 1e-6);
svg.append("g").selectAll("line").data(minor).enter().append("line")
  .attr("x1", d => xF(d)).attr("x2", d => xF(d)).attr("y1", PY1).attr("y2", PY1 + 7.2)
  .attr("stroke", "#000").attr("stroke-width", 2.2);
svg.append("g").selectAll("line").data(psdFreqTicks).enter().append("line")
  .attr("x1", d => xF(d)).attr("x2", d => xF(d)).attr("y1", PY1).attr("y2", PY1 + TL)
  .attr("stroke", "#000").attr("stroke-width", AW);
psdFreqTicks.forEach((f, i) => {
  const t = svg.append("text").attr("x", xF(f)).attr("y", 1228).attr("text-anchor", "middle").attr("font-size", FS);
  rich(t, [{t: "10"}, {t: psdFreqTickExp[i], sup: true}], FS);
});
svg.append("text").attr("x", (PX0 + PX1) / 2).attr("y", 1274).attr("text-anchor", "middle").attr("font-size", FS).text("Frequency [Hz]");
svg.append("g").selectAll("line").data(psdTicks).enter().append("line")
  .attr("x1", PX1).attr("x2", PX1 + TL).attr("y1", d => yP(d)).attr("y2", d => yP(d))
  .attr("stroke", "#000").attr("stroke-width", AW);
psdTicks.forEach((v, i) => {
  const t = svg.append("text").attr("x", PX1 + TL + 13).attr("y", yP(v) + 12.5).attr("font-size", FS);
  rich(t, [{t: "10"}, {t: psdTickExp[i], sup: true}], FS);
});
{
  const t = svg.append("text").attr("transform", `translate(2546,${(PY0 + PY1) / 2}) rotate(-90)`)
    .attr("text-anchor", "middle").attr("font-size", FS);
  rich(t, [{t: "Power spectral density [K"}, {t: "2", sup: true}, {t: "RJ", sub: true, dx: -15.6}, {t: "/Hz]"}], FS);
}
// legend
{
  const LF = 29;
  const gL = svg.append("g");
  gL.append("rect").attr("x", 1836).attr("y", 136).attr("width", 541).attr("height", 282).attr("rx", 6)
    .attr("fill", "#fff").attr("fill-opacity", 0.8).attr("stroke", "#cccccc").attr("stroke-width", 2.6);
  const rowY = d3.scaleLinear().domain([0, 5]).range([163, 390]);
  seriesNames.forEach((name, i) => {
    const cy = rowY(i);
    gL.append("rect").attr("x", 1845).attr("y", cy - 10.5).attr("width", 61).attr("height", 21).attr("fill", seriesColors[i]);
    const t = gL.append("text").attr("x", 1929).attr("y", cy + 10).attr("font-size", LF);
    rich(t, [{t: name}, {t: "n", it: true}, {t: "det", sub: true}, {t: " = " + seriesNdet[i] + ")"}], LF);
  });
}
</script>
</body></html>
